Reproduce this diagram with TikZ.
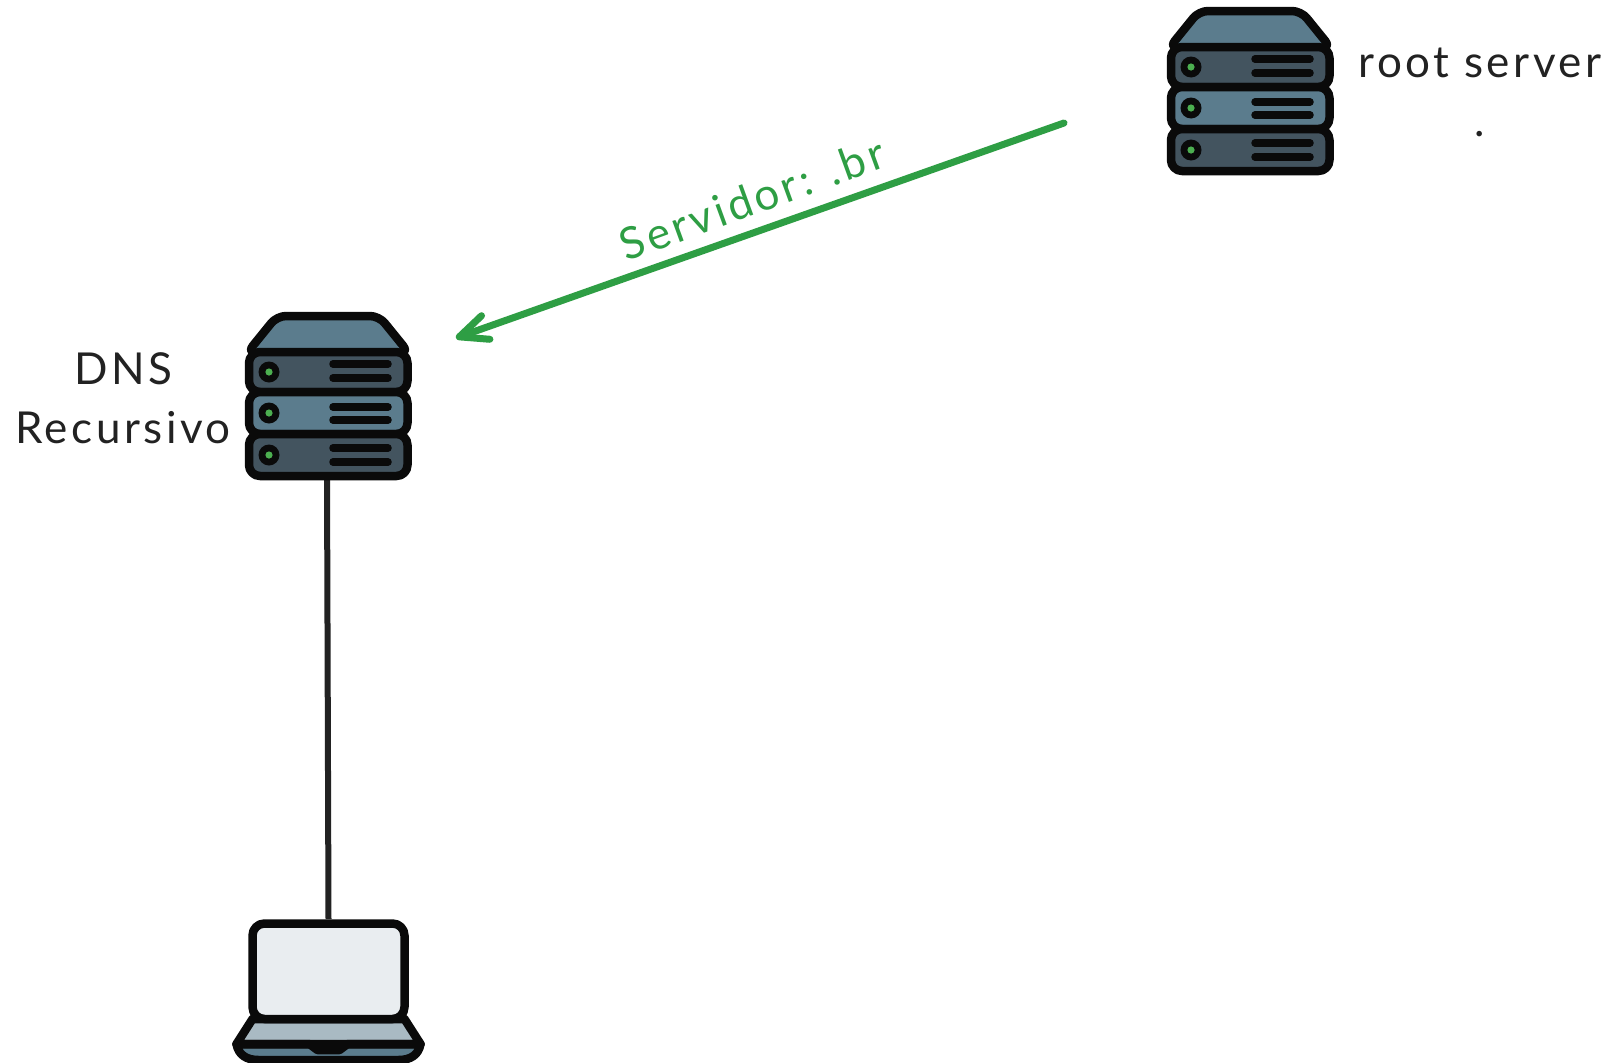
\documentclass[tikz,border=0pt]{standalone}
\usepackage{fontspec}
\setmainfont[LetterSpace=8]{Lato}
\usetikzlibrary{arrows.meta}
\definecolor{srvdark}{HTML}{43545F}
\definecolor{srvlight}{HTML}{5B7C8D}
\definecolor{ledgreen}{HTML}{4CAF50}
\definecolor{arrowgreen}{HTML}{2E9E44}
\definecolor{screenfill}{HTML}{E9EDF0}
\definecolor{deckfill}{HTML}{A9BAC3}
\definecolor{inkblack}{HTML}{0A0A0A}
\definecolor{textblack}{HTML}{222222}
\tikzset{
  x=1pt,y=-1pt,
  outline/.style={draw=inkblack,line width=8.5pt,line join=round},
  slot/.style={draw=inkblack,line width=7.5pt,line cap=round},
  iconbox/.style={draw=none,fill=none,inner sep=0pt,outer sep=0pt,rectangle},
  hand/.style={font=\fontsize{44}{59}\selectfont,text=textblack,inner sep=0pt,align=center},
  link/.style={draw=textblack,line width=6pt},
  greenarrow/.style={draw=arrowgreen,line width=7pt,line cap=round,
    -{Straight Barb[length=28pt,width=25pt,line width=7pt,round]}},
  serverpic/.pic={
    \path[outline,fill=srvlight,rounded corners=9pt] (19,48) -- (49,11) -- (151,11) -- (181,48) -- cycle;
    \path[outline,fill=srvdark,rounded corners=11pt] (21,47) rectangle (179.5,87);
    \path[outline,fill=srvlight,rounded corners=11pt] (21,87) rectangle (179.5,129);
    \path[outline,fill=srvdark,rounded corners=11pt] (21,129) rectangle (179.5,171);
    \foreach \ly in {67,108,150}{
      \fill[inkblack] (41,\ly) circle[radius=10.5pt];
      \fill[ledgreen] (41,\ly) circle[radius=3.6pt];
    }
    \foreach \sy in {59,73,102,115,143,157}{
      \draw[slot] (105,\sy) -- (160,\sy);
    }
  },
  laptoppic/.pic={
    \path[outline,fill=srvlight] (-92,125) .. controls (-90,136) and (-82,141) .. (-70,141) -- (70,141) .. controls (82,141) and (90,136) .. (92,125) -- cycle;
    \path[outline,fill=deckfill] (-76,100) -- (76,100) -- (92,125) -- (-92,125) -- cycle;
    \path[outline,fill=screenfill,rounded corners=12pt] (-76,100) -- (-76,4.5) -- (76,4.5) -- (76,100) -- cycle;
    \draw[inkblack,line width=8.5pt,line join=round,line cap=round] (-92,125) -- (-19,125) -- (-11,131) -- (11,131) -- (19,125) -- (92,125);
  }
}
\begin{document}
\begin{tikzpicture}
\useasboundingbox[fill=white] (0,0) rectangle (1618,1063);
\node[iconbox,minimum width=167pt,minimum height=168pt] (rootsrv) at (1250,91) {};
\node[iconbox,minimum width=167pt,minimum height=165pt] (dns) at (328.5,394.5) {};
\node[iconbox,minimum width=193pt,minimum height=144pt] (laptop) at (328.5,991) {};
\draw[link] ([xshift=-1.5pt]dns.south) -- (laptop.north);
\pic at (1150,0) {serverpic};
\pic at (228,305) {serverpic};
\pic at (328.5,919) {laptoppic};
\coordinate (tail) at (1064,123);
\coordinate (head) at (456,338);
\draw[greenarrow] (tail) -- (head);
\node[hand] (rootlabel) at (1480,92) {root server\\.};
\node[hand] (dnslabel) at (123,398) {DNS\\Recursivo};
\node[hand,text=arrowgreen,rotate=20] (arrowlabel) at (752,199) {Servidor: .br};
\end{tikzpicture}
\end{document}
